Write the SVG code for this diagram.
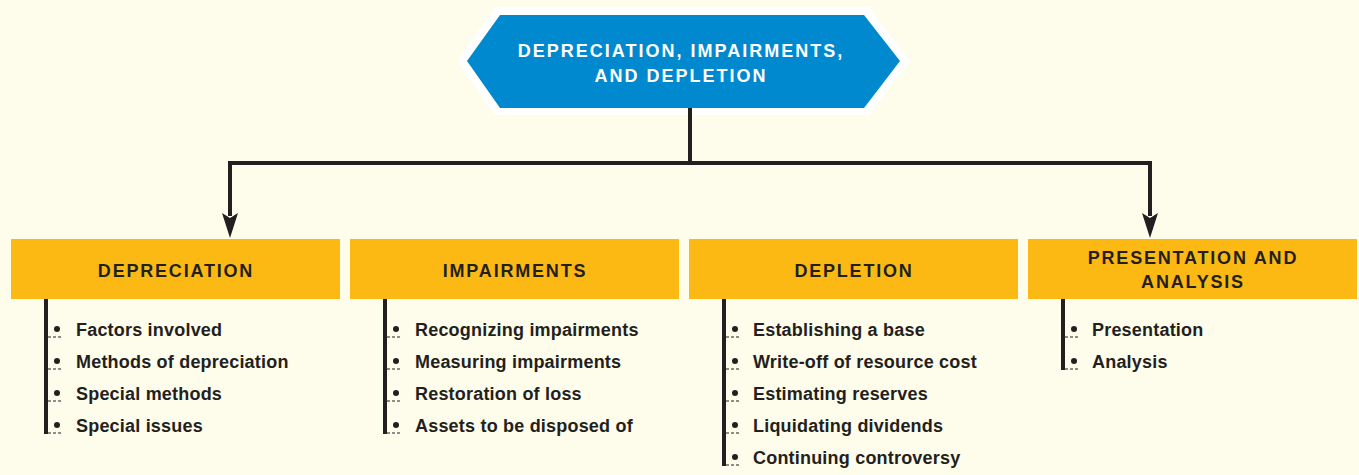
<svg xmlns="http://www.w3.org/2000/svg" width="1359" height="475" viewBox="0 0 1359 475">
<style>
.bg{fill:#FEFCEA}
.box{fill:#FDB913}
.ttl{font-family:"Liberation Sans",Arial,sans-serif;font-weight:bold;font-size:18px;letter-spacing:1.8px;fill:#231F20;text-anchor:middle}
.htxt{font-family:"Liberation Sans",Arial,sans-serif;font-weight:bold;font-size:18px;letter-spacing:2px;fill:#FFFFFF;text-anchor:middle}
.item{font-family:"Liberation Sans",Arial,sans-serif;font-weight:bold;font-size:18px;letter-spacing:0.2px;fill:#231F20}
.bar{stroke:#231F20;stroke-width:4;fill:none}
.dash{stroke:#231F20;stroke-width:1;stroke-dasharray:3 2;fill:none}
.dot{fill:#231F20}
.conn{stroke:#231F20;stroke-width:4;fill:none}
.head{fill:#231F20}
</style>
<rect class="bg" x="0" y="0" width="1359" height="475"/>

<g id="root">
<polygon points="457,61 495,7 869,7 910,61 869,115 495,115" fill="#FFFFFF"/>
<polygon points="467,61 500,15 864,15 900,61 864,108 500,108" fill="#0089CF"/>
<text class="htxt" x="681" y="57">DEPRECIATION, IMPAIRMENTS,</text>
<text class="htxt" x="681" y="82">AND DEPLETION</text>
</g>

<g id="connectors">
<path class="conn" d="M690,108 V163"/>
<path class="conn" d="M230,163 H1150"/>
<path class="conn" d="M230,161 V216"/>
<path class="conn" d="M1150,161 V216"/>
<path class="head" d="M222,213 L230,218 L238,213 L230,238 Z"/>
<path class="head" d="M1142,213 L1150,218 L1158,213 L1150,238 Z"/>
</g>

<g id="depreciation">
<rect class="box" x="11" y="239" width="329" height="60"/>
<text class="ttl" x="176" y="277">DEPRECIATION</text>
<path class="bar" d="M46,299 V434"/>
<g class="dash"><path d="M48,337 H62"/><path d="M48,369 H62"/><path d="M48,401 H62"/><path d="M48,433 H62"/></g>
<circle class="dot" cx="57" cy="329" r="3"/><circle class="dot" cx="57" cy="361" r="3"/><circle class="dot" cx="57" cy="393" r="3"/><circle class="dot" cx="57" cy="425" r="3"/>
<text class="item" x="76" y="336">Factors involved</text>
<text class="item" x="76" y="368">Methods of depreciation</text>
<text class="item" x="76" y="400">Special methods</text>
<text class="item" x="76" y="432">Special issues</text>
</g>

<g id="impairments">
<rect class="box" x="350" y="239" width="329" height="60"/>
<text class="ttl" x="515" y="277">IMPAIRMENTS</text>
<path class="bar" d="M385,299 V434"/>
<g class="dash"><path d="M387,337 H401"/><path d="M387,369 H401"/><path d="M387,401 H401"/><path d="M387,433 H401"/></g>
<circle class="dot" cx="396" cy="329" r="3"/><circle class="dot" cx="396" cy="361" r="3"/><circle class="dot" cx="396" cy="393" r="3"/><circle class="dot" cx="396" cy="425" r="3"/>
<text class="item" x="415" y="336">Recognizing impairments</text>
<text class="item" x="415" y="368">Measuring impairments</text>
<text class="item" x="415" y="400">Restoration of loss</text>
<text class="item" x="415" y="432">Assets to be disposed of</text>
</g>

<g id="depletion">
<rect class="box" x="689" y="239" width="329" height="60"/>
<text class="ttl" x="854" y="277">DEPLETION</text>
<path class="bar" d="M724,299 V466"/>
<g class="dash"><path d="M726,337 H740"/><path d="M726,369 H740"/><path d="M726,401 H740"/><path d="M726,433 H740"/><path d="M726,465 H740"/></g>
<circle class="dot" cx="735" cy="329" r="3"/><circle class="dot" cx="735" cy="361" r="3"/><circle class="dot" cx="735" cy="393" r="3"/><circle class="dot" cx="735" cy="425" r="3"/><circle class="dot" cx="735" cy="457" r="3"/>
<text class="item" x="753" y="336">Establishing a base</text>
<text class="item" x="753" y="368">Write-off of resource cost</text>
<text class="item" x="753" y="400">Estimating reserves</text>
<text class="item" x="753" y="432">Liquidating dividends</text>
<text class="item" x="753" y="464">Continuing controversy</text>
</g>

<g id="presentation">
<rect class="box" x="1028" y="239" width="329" height="60"/>
<text class="ttl" x="1193" y="264">PRESENTATION AND</text>
<text class="ttl" x="1193" y="288">ANALYSIS</text>
<path class="bar" d="M1063,299 V370"/>
<g class="dash"><path d="M1065,337 H1079"/><path d="M1065,369 H1079"/></g>
<circle class="dot" cx="1074" cy="329" r="3"/><circle class="dot" cx="1074" cy="361" r="3"/>
<text class="item" x="1092" y="336">Presentation</text>
<text class="item" x="1092" y="368">Analysis</text>
</g>
</svg>
